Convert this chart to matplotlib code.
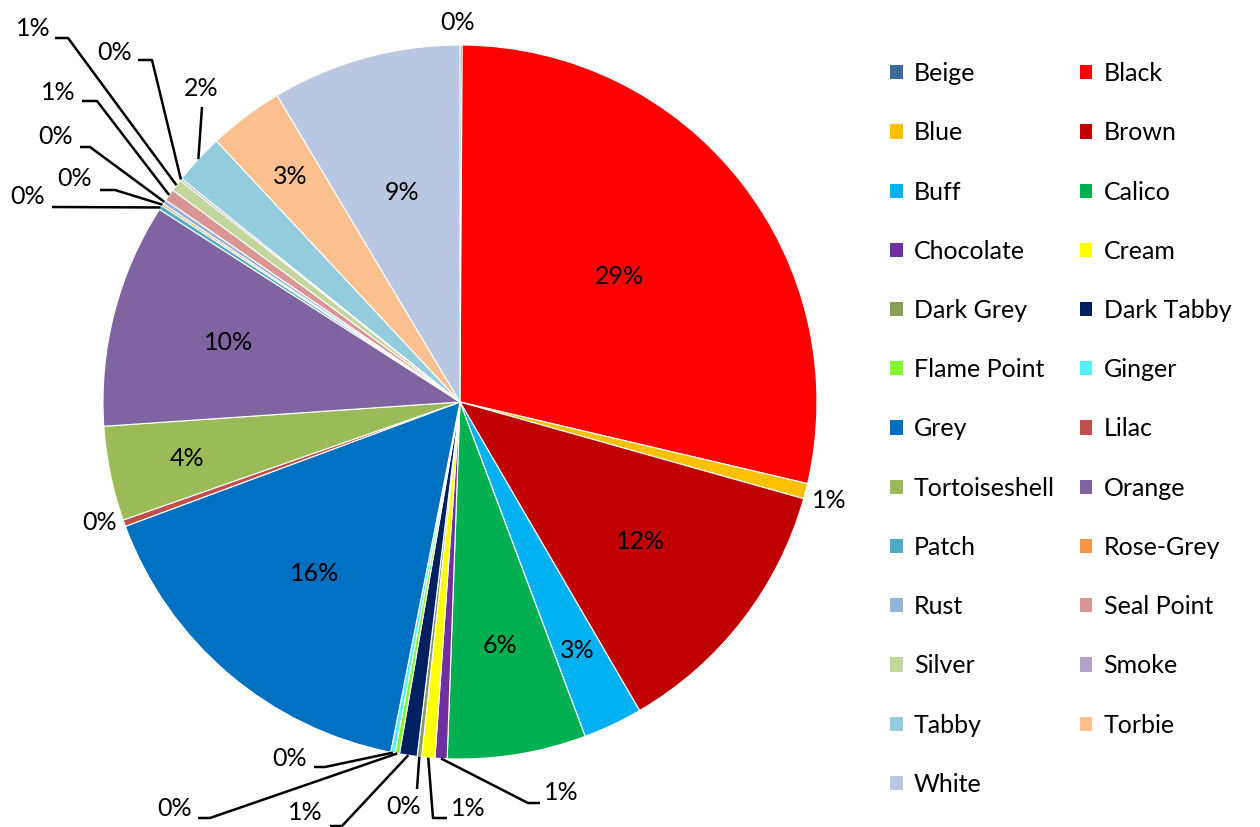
import numpy as np
import matplotlib.pyplot as plt
from matplotlib.patches import Patch

plt.rcParams['font.family'] = ['Lato', 'DejaVu Sans']

# Cat coat colours, share of cats (%), read clockwise from 12 o'clock
colours = ["Beige", "Black", "Blue", "Brown", "Buff", "Calico", "Chocolate",
           "Cream", "Dark Grey", "Dark Tabby", "Flame Point", "Ginger", "Grey",
           "Lilac", "Tortoiseshell", "Orange", "Patch", "Rose-Grey", "Rust",
           "Seal Point", "Silver", "Smoke", "Tabby", "Torbie", "White"]
shares = [0.1, 28.7, 0.7, 12.3, 2.7, 6.3, 0.55, 0.6, 0.2, 0.8, 0.2, 0.2, 16.3,
          0.3, 4.3, 10.2, 0.2, 0.1, 0.2, 0.55, 0.55, 0.1, 2.3, 3.4, 8.6]
pct_labels = ["0%", "29%", "1%", "12%", "3%", "6%", "1%", "1%", "0%", "1%",
              "0%", "0%", "16%", "0%", "4%", "10%", "0%", "0%", "0%", "1%",
              "1%", "0%", "2%", "3%", "9%"]

fills = ["#3F6A9E", "#FF0000", "#FFC000", "#C00000", "#00B0F0", "#00B050",
         "#7030A0", "#FFFF00", "#86A058", "#002060", "#7FFF2A", "#55F0F5",
         "#0070C0", "#C0504D", "#9BBB59", "#8064A2", "#4BACC6", "#F79646",
         "#95B3D7", "#D99694", "#C3D69B", "#B3A2C7", "#93CDDD", "#FAC090",
         "#B9C7E0"]

W, H = 1260, 827
fig = plt.figure(figsize=(12.6, 8.27), dpi=100)
ax = fig.add_axes([0, 0, 1, 1])
cx, cy, R = 460, H - 402, 357
FS = 18

wedges, _ = ax.pie(shares, colors=fills, startangle=90, counterclock=False,
                   center=(cx, cy), radius=R,
                   wedgeprops=dict(edgecolor="white", linewidth=0.8))
ax.set_xlim(0, W)
ax.set_ylim(0, H)
ax.set_aspect("equal")
ax.axis("off")

def mid_point(i, frac):
    w = wedges[i]
    ang = np.deg2rad((w.theta1 + w.theta2) / 2)
    return cx + frac * R * np.cos(ang), cy + frac * R * np.sin(ang)

# inside labels: slice index -> radial fraction
inside = {1: 0.57, 3: 0.64, 4: 0.77, 5: 0.69, 12: 0.63, 14: 0.78,
          15: 0.67, 23: 0.79, 24: 0.61}
for i, f in inside.items():
    x, y = mid_point(i, f)
    ax.text(x, y, pct_labels[i], ha="center", va="center", fontsize=FS)

# outside labels: slice index -> (label centre, leader elbow points) in pixels from top
outside = {
    0: ((458, 22), []),
    2: ((829, 500), []),
    13: ((100, 523), []),
    6: ((561, 793), [(528, 803), (540, 803)]),
    7: ((468, 808), [(433, 818), (447, 818)]),
    8: ((404, 807), [(417, 789)]),
    9: ((305, 813), [(342, 826), (330, 826)]),
    10: ((175, 808), [(210, 818), (198, 818)]),
    11: ((290, 758), [(325, 767), (314, 767)]),
    16: ((28, 196), [(52, 207)]),
    17: ((75, 179), [(115, 190), (100, 190)]),
    18: ((56, 137), [(90, 147), (80, 147)]),
    19: ((58, 92), [(97, 101), (82, 101)]),
    20: ((33, 29), [(68, 38), (55, 38)]),
    21: ((115, 52), [(152, 60), (138, 60)]),
    22: ((201, 89), [(202, 107)]),
}
for i, ((tx, ty), path) in outside.items():
    ax.text(tx, H - ty, pct_labels[i], ha="center", va="center", fontsize=FS)
    if path:
        x0, y0 = mid_point(i, 1.0)
        xs = [x0] + [p[0] for p in path]
        ys = [y0] + [H - p[1] for p in path]
        ax.plot(xs, ys, color="black", linewidth=1.8, solid_capstyle="butt")

# legend filled row by row (matplotlib fills columns first)
handles = [Patch(facecolor=c, edgecolor="none") for c in fills]
order = list(range(0, 25, 2)) + list(range(1, 25, 2))
ax.legend([handles[i] for i in order], [colours[i] for i in order],
          ncol=2, loc="upper left", bbox_to_anchor=(890 / W, 1 - 62 / H),
          frameon=False, fontsize=FS, handlelength=0.5, handleheight=0.5,
          handletextpad=0.45, labelspacing=1.45, columnspacing=1.0,
          borderpad=0, borderaxespad=0)

fig.savefig("out.png", dpi=100)
